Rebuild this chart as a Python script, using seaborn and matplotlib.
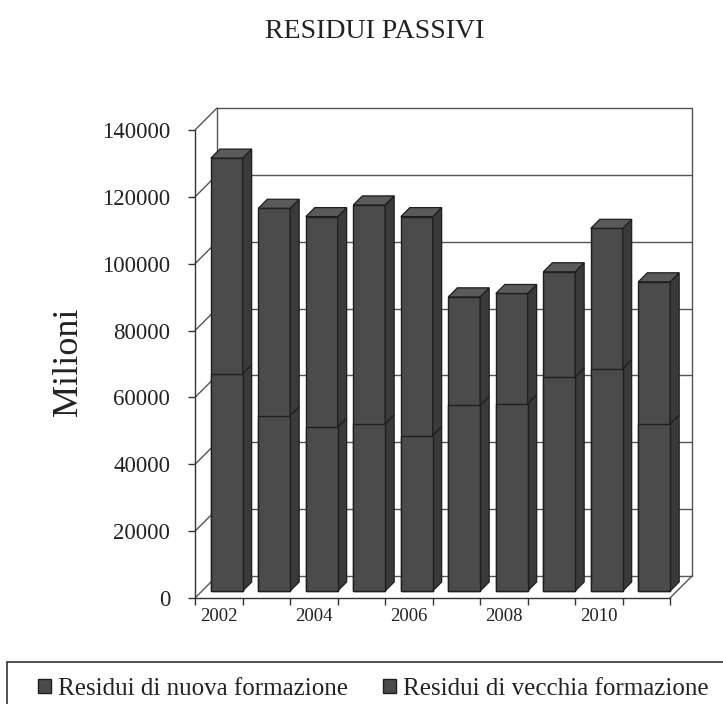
import numpy as np
import pandas as pd
import matplotlib
matplotlib.use("Agg")
import matplotlib.pyplot as plt
import seaborn as sns
from matplotlib.patches import Polygon, Rectangle, Patch
from matplotlib.transforms import ScaledTranslation
from matplotlib.lines import Line2D

# ---------------- data ----------------
years = [2002, 2003, 2004, 2005, 2006, 2007, 2008, 2009, 2010, 2011]
nuova = [65000, 52500, 49000, 50000, 46500, 55500, 56000, 64000, 66500, 50000]
vecchia = [64500, 62000, 63000, 65500, 65500, 32500, 33000, 31500, 42000, 42500]
yticks = [0, 20000, 40000, 60000, 80000, 100000, 120000, 140000]
ytick_labels = ["0", "20000", "40000", "60000", "80000", "100000", "120000", "140000"]
xtick_years = ["2002", "2004", "2006", "2008", "2010"]
title = "RESIDUI PASSIVI"
ylabel = "Milioni"
series_names = ["Residui di nuova formazione", "Residui di vecchia formazione"]

# ---------------- style ----------------
sns.set_theme(style="white")
plt.rcParams["font.family"] = ["Liberation Serif", "DejaVu Serif"]

FRONT = "#4b4b4b"
SIDE = "#3a3a3a"
TOP = "#5a5a5a"
EDGE = "#1e1e1e"
GRID = "#555555"
TXT = "#222222"

totals = [n + v for n, v in zip(nuova, vecchia)]
df = pd.DataFrame({"anno": [str(y) for y in years], "nuova": nuova, "totale": totals})

W, H = 723, 704
fig = plt.figure(figsize=(W / 100, H / 100), dpi=100)
ax_l, ax_b, ax_w, ax_h = 195, 106, 475, 468
ax = fig.add_axes([ax_l / W, ax_b / H, ax_w / W, ax_h / H])

sns.barplot(data=df, x="anno", y="totale", color=FRONT, saturation=1, width=0.67,
            edgecolor=EDGE, linewidth=1.0, errorbar=None, ax=ax, zorder=3)
sns.barplot(data=df, x="anno", y="nuova", color=FRONT, saturation=1, width=0.67,
            edgecolor=EDGE, linewidth=1.0, errorbar=None, ax=ax, zorder=4)

ax.set_xlim(-0.5, len(years) - 0.5)
ax.set_ylim(yticks[0], yticks[-1])
ax.set_xlabel("")
ax.set_ylabel("")

# pixel -> data conversion for pseudo-3D depth
ppx = ax_w / len(years)
ppy = ax_h / (yticks[-1] - yticks[0])
WDX, WDY = 22 / ppx, 22 / ppy      # wall depth
BDX, BDY = 9 / ppx, 9 / ppy        # bar depth
shift = ScaledTranslation(8 / 100, 7 / 100, fig.dpi_scale_trans)
tr = ax.transData + shift

n = len(years)
patches = list(ax.patches)
for p in patches:
    p.set_transform(tr)
    p.set_clip_on(False)

for i in range(n):
    tp, lp = patches[i], patches[n + i]
    x0 = tp.get_x()
    x1 = x0 + tp.get_width()
    ht = tp.get_height()
    hn = lp.get_height()
    faces = [
        ([(x1, 0), (x1 + BDX, BDY), (x1 + BDX, hn + BDY), (x1, hn)], SIDE),
        ([(x1, hn), (x1 + BDX, hn + BDY), (x1 + BDX, ht + BDY), (x1, ht)], SIDE),
        ([(x0, ht), (x0 + BDX, ht + BDY), (x1 + BDX, ht + BDY), (x1, ht)], TOP),
    ]
    for pts, fc in faces:
        ax.add_patch(Polygon(pts, closed=True, facecolor=fc, edgecolor=EDGE,
                             linewidth=0.9, transform=tr, zorder=3, clip_on=False))

# walls, floor and gridlines
xl, xr = -0.5, n - 0.5
def wline(xs, ys):
    ax.add_line(Line2D(xs, ys, color=GRID, linewidth=1.0, zorder=1, clip_on=False))

for v in yticks:
    wline([xl, xl + WDX], [v, v + WDY])
    wline([xl + WDX, xr + WDX], [v + WDY, v + WDY])
wline([xl + WDX, xl + WDX], [WDY, yticks[-1] + WDY])
wline([xr + WDX, xr + WDX], [WDY, yticks[-1] + WDY])
wline([xr, xr + WDX], [0, WDY])

for s in ["top", "right"]:
    ax.spines[s].set_visible(False)
for s in ["left", "bottom"]:
    ax.spines[s].set_color("#333333")
    ax.spines[s].set_linewidth(1.0)

ax.set_yticks(yticks)
ax.set_yticklabels(ytick_labels)
ax.tick_params(axis="y", left=True, length=5, width=1, color="#333333",
               direction="out", pad=13, labelsize=16.5, labelcolor=TXT)

str_years = [str(y) for y in years]
ax.set_xticks([str_years.index(y) for y in xtick_years])
ax.set_xticklabels(xtick_years)
ax.set_xticks(np.arange(-0.5, n, 1.0), minor=True)
ax.tick_params(axis="x", which="major", length=0, pad=7, labelsize=13.5, labelcolor=TXT)
ax.tick_params(axis="x", which="minor", bottom=True, length=5, width=1, color="#333333",
               direction="out")

fig.text(375 / W, 1 - 31 / H, title, ha="center", va="center", fontsize=20, color=TXT)
fig.text(69 / W, 1 - 362 / H, ylabel, ha="center", va="center", rotation=90,
         fontsize=26, color=TXT)

# legend box
fig.add_artist(Rectangle((7 / W, -0.02), 1.0, (H - 662) / H + 0.02, transform=fig.transFigure,
                         fill=False, edgecolor="#333333", linewidth=1.2))
handles = [Patch(facecolor=FRONT, edgecolor=EDGE, linewidth=1.0) for _ in series_names]
fig.legend(handles, series_names, loc="center left", bbox_to_anchor=(38 / W, 1 - 689 / H),
           ncol=2, frameon=False, fontsize=18, handlelength=0.5, handleheight=0.5,
           handletextpad=0.3, columnspacing=1.4, borderpad=0, borderaxespad=0,
           labelcolor=TXT)

fig.savefig("out.png", dpi=100, facecolor="white")
